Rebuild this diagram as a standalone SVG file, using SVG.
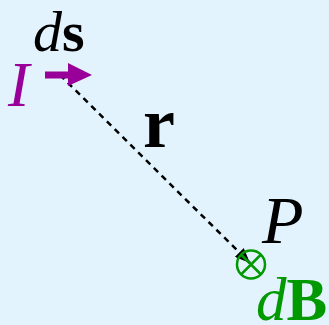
<svg xmlns="http://www.w3.org/2000/svg" width="329" height="325" viewBox="0 0 329 325">
<defs>
<style>
.t{font-family:"Liberation Serif","Times New Roman",serif}
.i{font-style:italic}
.b{font-weight:bold}
</style>
<marker id="ah" markerWidth="6" markerHeight="5" refX="6" refY="2.5" orient="auto" markerUnits="strokeWidth">
<path d="M0,0 L6,2.5 L0,5 Z" fill="#000"/>
</marker>
</defs>
<rect width="329" height="325" fill="#e2f3fd"/>
<g id="connectors">
<path d="M60,75 L250,263" stroke="#000" stroke-width="2.5" stroke-dasharray="6,5" fill="none" marker-end="url(#ah)"/>
</g>
<g id="current">
<path d="M45,71.5 H68 V63 L92,75 L68,86 V78.5 H45 Z" fill="#990099"/>
<text class="t i" x="8" y="106" font-size="64" fill="#990099">I</text>
<text class="t" x="33" y="51" font-size="58"><tspan class="i">d</tspan><tspan class="b">s</tspan></text>
</g>
<g id="r-label">
<text class="t b" x="143" y="147" font-size="72">r</text>
</g>
<g id="point">
<circle cx="251" cy="264.5" r="14" fill="none" stroke="#009900" stroke-width="2.5"/>
<path d="M241,254.5 L261,274.5 M261,254.5 L241,274.5" stroke="#009900" stroke-width="2.5"/>
<text class="t i" x="262" y="243" font-size="68">P</text>
<text class="t" x="256" y="320" font-size="61" fill="#009900"><tspan class="i">d</tspan><tspan class="b">B</tspan></text>
</g>
</svg>
